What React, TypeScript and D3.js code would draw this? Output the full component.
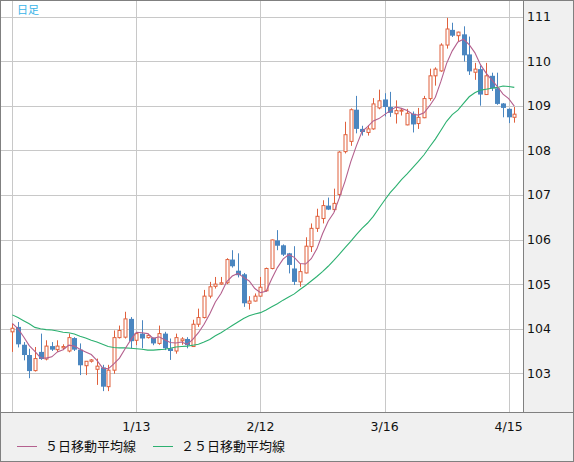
import React, { useEffect, useRef } from "react";
import * as d3 from "d3";

// daily candles, 2020/12/14 - 2021/4/16
const dates = [
  "12/14", "12/15", "12/16", "12/17", "12/18", "12/21", "12/22", "12/23", "12/24", "12/25",
  "12/28", "12/29", "12/30", "12/31", "1/1", "1/4", "1/5", "1/6", "1/7", "1/8",
  "1/11", "1/12", "1/13", "1/14", "1/15", "1/18", "1/19", "1/20", "1/21", "1/22",
  "1/25", "1/26", "1/27", "1/28", "1/29", "2/1", "2/2", "2/3", "2/4", "2/5",
  "2/8", "2/9", "2/10", "2/11", "2/12", "2/15", "2/16", "2/17", "2/18", "2/19",
  "2/22", "2/23", "2/24", "2/25", "2/26", "3/1", "3/2", "3/3", "3/4", "3/5",
  "3/8", "3/9", "3/10", "3/11", "3/12", "3/15", "3/16", "3/17", "3/18", "3/19",
  "3/22", "3/23", "3/24", "3/25", "3/26", "3/29", "3/30", "3/31", "4/1", "4/2",
  "4/5", "4/6", "4/7", "4/8", "4/9", "4/12", "4/13", "4/14", "4/15", "4/16",
];

const open = [
  103.93, 104.04, 103.64, 103.41, 103.06, 103.48, 103.32, 103.61, 103.53, 103.57,
  103.5, 103.79, 103.53, 103.17, 103.27, 103.09, 103.13, 102.7, 103.07, 103.8,
  103.81, 104.22, 103.74, 103.89, 103.8, 103.8, 103.67, 103.89, 103.56, 103.5,
  103.73, 103.77, 103.6, 104.1, 104.25, 104.73, 104.95, 105.0, 105.03, 105.55,
  105.3, 105.22, 104.57, 104.62, 104.73, 104.85, 105.35, 105.98, 105.87, 105.69,
  105.35, 105.05, 105.25, 105.84, 106.25, 106.47, 106.76, 106.67, 107.01, 107.97,
  108.2, 108.91, 108.48, 108.4, 108.48, 108.95, 109.14, 108.97, 108.82, 108.88,
  108.57, 108.82, 108.6, 108.73, 109.16, 109.67, 109.78, 110.36, 110.7, 110.57,
  110.6, 110.15, 109.75, 109.82, 109.25, 109.67, 109.39, 109.05, 108.93, 108.74,
];

const high = [
  104.11, 104.15, 103.7, 103.55, 103.59, 103.89, 103.74, 103.7, 103.74, 103.65,
  103.89, 103.81, 103.67, 103.27, 103.32, 103.33, 103.19, 103.19, 103.96, 104.07,
  104.38, 104.26, 103.89, 104.19, 103.89, 103.8, 104.07, 103.93, 103.78, 103.89,
  103.81, 103.81, 104.2, 104.45, 104.87, 105.05, 105.16, 105.16, 105.58, 105.76,
  105.69, 105.25, 104.73, 104.79, 105.16, 105.37, 106.0, 106.21, 105.89, 105.7,
  105.85, 105.46, 106.05, 106.36, 106.69, 106.88, 106.94, 107.14, 107.98, 108.64,
  108.94, 109.22, 108.55, 108.56, 109.17, 109.36, 109.28, 109.31, 109.12, 108.93,
  108.93, 108.87, 108.95, 109.22, 109.83, 109.86, 110.4, 110.97, 110.86, 110.66,
  110.78, 110.55, 109.96, 109.9, 109.96, 109.74, 109.74, 109.06, 108.94, 108.97,
];

const low = [
  103.48, 103.58, 103.29, 102.89, 103.04, 103.3, 103.29, 103.5, 103.48, 103.52,
  103.47, 103.5, 102.96, 102.96, 103.24, 102.74, 102.6, 102.6, 102.99, 103.78,
  103.78, 103.56, 103.63, 103.56, 103.78, 103.63, 103.64, 103.52, 103.3, 103.44,
  103.64, 103.56, 103.6, 104.04, 104.23, 104.68, 104.9, 104.98, 105.0, 105.37,
  105.15, 104.49, 104.43, 104.61, 104.72, 104.83, 105.33, 105.76, 105.63, 105.24,
  104.98, 104.94, 105.24, 105.72, 106.17, 106.36, 106.66, 106.62, 106.96, 107.93,
  108.1, 108.38, 108.33, 108.33, 108.46, 108.92, 108.76, 108.75, 108.6, 108.78,
  108.56, 108.4, 108.48, 108.72, 109.11, 109.45, 109.76, 110.28, 110.54, 110.45,
  109.99, 109.69, 109.58, 109.0, 109.24, 109.33, 109.02, 108.74, 108.61, 108.62,
];

const close = [
  104.01, 103.65, 103.41, 103.05, 103.33, 103.32, 103.61, 103.53, 103.61, 103.6,
  103.8, 103.53, 103.18, 103.27, 103.3, 103.16, 102.7, 103.07, 103.8, 103.96,
  104.22, 103.72, 103.89, 103.78, 103.85, 103.67, 103.89, 103.56, 103.5, 103.8,
  103.77, 103.63, 104.1, 104.25, 104.73, 104.94, 105.0, 105.03, 105.55, 105.4,
  105.2, 104.57, 104.62, 104.73, 104.93, 105.35, 105.99, 105.86, 105.66, 105.43,
  105.05, 105.28, 105.85, 106.25, 106.52, 106.76, 106.67, 106.81, 107.96, 108.35,
  108.91, 108.48, 108.41, 108.48, 109.04, 109.11, 108.97, 108.84, 108.89, 108.9,
  108.83, 108.58, 108.74, 109.16, 109.67, 109.82, 110.36, 110.72, 110.57, 110.65,
  110.13, 109.77, 109.82, 109.25, 109.67, 109.39, 109.04, 108.95, 108.74, 108.81,
];

const ma5 = [
  104.12, 104.0, 103.82, 103.62, 103.49, 103.35, 103.34, 103.37, 103.48, 103.53,
  103.63, 103.61, 103.54, 103.48, 103.42, 103.29, 103.12, 103.1, 103.21, 103.34,
  103.55, 103.75, 103.92, 103.91, 103.89, 103.78, 103.82, 103.75, 103.69, 103.68,
  103.7, 103.65, 103.76, 103.91, 104.1, 104.33, 104.6, 104.79, 105.05, 105.18,
  105.24, 105.15, 105.07, 104.9, 104.81, 104.84, 105.12, 105.37, 105.56, 105.66,
  105.6, 105.46, 105.45, 105.57, 105.79, 106.13, 106.41, 106.6, 106.94, 107.31,
  107.74, 108.1, 108.42, 108.53, 108.66, 108.71, 108.8, 108.89, 108.97, 108.94,
  108.89, 108.81, 108.79, 108.84, 109.0, 109.19, 109.55, 109.95, 110.23, 110.43,
  110.49, 110.37, 110.19, 109.92, 109.73, 109.58, 109.43, 109.26, 109.16, 108.99,
];

const ma25 = [
  104.31, 104.25, 104.18, 104.11, 104.03, 104.0, 103.98, 103.97, 103.95, 103.92,
  103.91, 103.88, 103.83, 103.79, 103.74, 103.7, 103.65, 103.6, 103.58, 103.57,
  103.57, 103.56, 103.55, 103.54, 103.52, 103.52, 103.53, 103.54, 103.56, 103.59,
  103.6, 103.61, 103.63, 103.65, 103.7, 103.76, 103.84, 103.91, 103.99, 104.07,
  104.15, 104.23, 104.29, 104.33, 104.36, 104.42, 104.49, 104.56, 104.64, 104.71,
  104.78, 104.88, 104.97, 105.07, 105.17, 105.28, 105.4, 105.53, 105.67, 105.82,
  105.96, 106.11, 106.25, 106.37, 106.52, 106.7, 106.88, 107.05, 107.19, 107.34,
  107.47, 107.61, 107.75, 107.9, 108.08, 108.25, 108.45, 108.65, 108.8, 108.9,
  109.05, 109.2, 109.29, 109.35, 109.37, 109.39, 109.41, 109.44, 109.43, 109.41,
];

const yTicks = [103, 104, 105, 106, 107, 108, 109, 110, 111];
const gridDates = ["12/14", "1/13", "2/12", "3/16", "4/15"];
const tickLabels = ["1/13", "2/12", "3/16", "4/15"];

const UP = "#e0603c";
const DOWN = "#4a86c0";
const MA5_COLOR = "#b4608e";
const MA25_COLOR = "#2cb070";

const CandleChart = () => {
  const chartRef = useRef<SVGSVGElement | null>(null);

  useEffect(() => {
    if (!chartRef.current) return;
    const svg = d3.select(chartRef.current);
    svg.selectAll("*").remove();

    const width = 574;
    const height = 462;
    const plotRight = 523;
    const plotBottom = 412;

    const x = d3.scalePoint().domain(dates).range([12.3, 514.3]);
    const y = d3.scaleLinear().domain([103, 111]).range([373.3, 16.5]);
    const px = (d: string) => Math.round(x(d) as number) + 0.5;

    // backgrounds
    svg.append("rect").attr("width", width).attr("height", height).attr("fill", "#fff");
    svg
      .append("rect")
      .attr("x", plotRight)
      .attr("y", 0)
      .attr("width", width - plotRight)
      .attr("height", height)
      .attr("fill", "#f0f0f0");
    svg
      .append("rect")
      .attr("x", 0)
      .attr("y", plotBottom)
      .attr("width", width)
      .attr("height", height - plotBottom)
      .attr("fill", "#f0f0f0");

    // grid
    const grid = svg.append("g").attr("stroke", "#c8c8c8").attr("stroke-width", 1);
    grid
      .selectAll("line.h")
      .data(yTicks)
      .join("line")
      .attr("x1", 1)
      .attr("x2", plotRight)
      .attr("y1", (d) => Math.round(y(d)) + 0.5)
      .attr("y2", (d) => Math.round(y(d)) + 0.5);
    grid
      .selectAll("line.v")
      .data(gridDates)
      .join("line")
      .attr("x1", (d) => px(d))
      .attr("x2", (d) => px(d))
      .attr("y1", 1)
      .attr("y2", plotBottom);

    // candles
    const candles = svg
      .append("g")
      .selectAll("g")
      .data(dates.map((d, i) => ({ d, o: open[i], h: high[i], l: low[i], c: close[i] })))
      .join("g");

    candles
      .append("line")
      .attr("x1", (k) => px(k.d))
      .attr("x2", (k) => px(k.d))
      .attr("y1", (k) => y(k.h))
      .attr("y2", (k) => y(k.l))
      .attr("stroke", (k) => (k.c >= k.o ? UP : DOWN))
      .attr("stroke-width", 1);

    candles
      .append("rect")
      .attr("x", (k) => (k.c >= k.o ? px(k.d) - 1.5 : px(k.d) - 2.5))
      .attr("y", (k) => y(Math.max(k.o, k.c)))
      .attr("width", (k) => (k.c >= k.o ? 3 : 5))
      .attr("height", (k) => Math.max(1, Math.abs(y(k.o) - y(k.c))))
      .attr("fill", (k) => (k.c >= k.o ? "#fff" : DOWN))
      .attr("stroke", (k) => (k.c >= k.o ? UP : "none"))
      .attr("stroke-width", 1);

    // moving averages
    const line = d3
      .line<number>()
      .x((_, i) => x(dates[i]) as number)
      .y((v) => y(v));

    svg
      .append("path")
      .datum(ma25)
      .attr("d", line)
      .attr("fill", "none")
      .attr("stroke", MA25_COLOR)
      .attr("stroke-width", 1.1);
    svg
      .append("path")
      .datum(ma5)
      .attr("d", line)
      .attr("fill", "none")
      .attr("stroke", MA5_COLOR)
      .attr("stroke-width", 1.1);

    // frame lines
    svg
      .append("line")
      .attr("x1", plotRight + 0.5)
      .attr("x2", plotRight + 0.5)
      .attr("y1", 0)
      .attr("y2", plotBottom)
      .attr("stroke", "#808080");
    svg
      .append("line")
      .attr("x1", 0)
      .attr("x2", width)
      .attr("y1", plotBottom + 0.5)
      .attr("y2", plotBottom + 0.5)
      .attr("stroke", "#808080");
    svg
      .append("rect")
      .attr("x", 0.5)
      .attr("y", 0.5)
      .attr("width", width - 1)
      .attr("height", height - 1)
      .attr("fill", "none")
      .attr("stroke", "#808080");

    // y labels
    svg
      .append("g")
      .selectAll("text")
      .data(yTicks)
      .join("text")
      .attr("x", 527)
      .attr("y", (d) => y(d))
      .attr("dy", "0.36em")
      .attr("font-family", "DejaVu Sans, sans-serif")
      .attr("font-size", 12.5)
      .attr("fill", "#111")
      .text((d) => d);

    // x labels
    svg
      .append("g")
      .selectAll("text")
      .data(tickLabels)
      .join("text")
      .attr("x", (d) => x(d) as number)
      .attr("y", 426)
      .attr("dy", "0.36em")
      .attr("text-anchor", "middle")
      .attr("font-family", "DejaVu Sans, sans-serif")
      .attr("font-size", 12.5)
      .attr("fill", "#111")
      .text((d) => d);

    // title
    svg
      .append("text")
      .attr("x", 17)
      .attr("y", 10)
      .attr("dy", "0.36em")
      .attr("font-family", "Noto Sans CJK JP, sans-serif")
      .attr("font-size", 11)
      .attr("fill", "#3ab4e8")
      .text("日足");

    // legend
    const legend = [
      { label: "５日移動平均線", color: MA5_COLOR, x: 17 },
      { label: "２５日移動平均線", color: MA25_COLOR, x: 153 },
    ];
    const lg = svg.append("g").selectAll("g").data(legend).join("g");
    lg.append("line")
      .attr("x1", (d) => d.x)
      .attr("x2", (d) => d.x + 20)
      .attr("y1", 446.5)
      .attr("y2", 446.5)
      .attr("stroke", (d) => d.color);
    lg.append("text")
      .attr("x", (d) => d.x + 28)
      .attr("y", 446)
      .attr("dy", "0.36em")
      .attr("font-family", "Noto Sans CJK JP, sans-serif")
      .attr("font-size", 13)
      .attr("fill", "#111")
      .text((d) => d.label);
  }, []);

  return (
    <svg
      ref={chartRef}
      width={574}
      height={462}
      style={{ position: "absolute", left: 0, top: 0 }}
    ></svg>
  );
};

export default function App() {
  return <CandleChart />;
}
